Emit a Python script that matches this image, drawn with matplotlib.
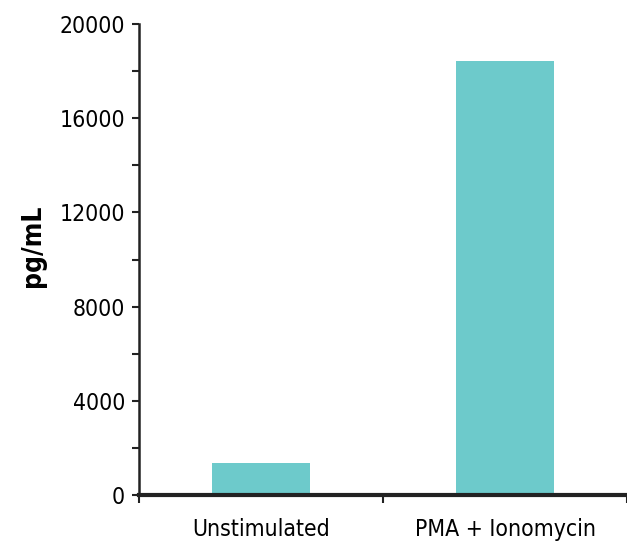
import matplotlib.pyplot as plt
from matplotlib.ticker import MultipleLocator

groups = ["Unstimulated", "PMA + Ionomycin"]
values = [1360, 18450]
y_ticks = [0, 4000, 8000, 12000, 16000, 20000]

plt.rcParams["font.family"] = ["DejaVu Sans"]
plt.rcParams["font.stretch"] = "condensed"

fig = plt.figure(figsize=(6.27, 5.42), dpi=100)
ax = fig.add_axes([0.2217, 0.0867, 0.7783, 0.869])

x = range(len(groups))
ax.bar(x, values, width=0.4, color="#6dcacb")

ax.set_xlim(-0.5, 1.5)
ax.set_ylim(0, 20000)
ax.set_yticks(y_ticks)
ax.yaxis.set_minor_locator(MultipleLocator(2000))
ax.tick_params(axis="y", which="both", direction="out", length=5, width=1.5,
               labelsize=16.5, pad=5, color="#222222")

# category labels centred, boundary ticks between them
ax.set_xticks([-0.5, 0.5, 1.5])
ax.set_xticklabels([])
ax.tick_params(axis="x", direction="out", length=6, width=1.5, color="#222222")
for i, g in enumerate(groups):
    ax.text(i, -0.048, g, transform=ax.get_xaxis_transform(), ha="center",
            va="top", fontsize=16.5, fontstretch="condensed")

ax.set_ylabel("pg/mL", fontsize=19, fontweight="bold")
ax.yaxis.set_label_coords(-0.19, 0.53)

for s in ["top", "right"]:
    ax.spines[s].set_visible(False)
ax.spines["left"].set_linewidth(1.8)
ax.spines["bottom"].set_linewidth(3)
ax.spines["left"].set_color("#222222")
ax.spines["bottom"].set_color("#222222")
ax.spines["bottom"].set_zorder(5)

fig.savefig("out.png", dpi=100)
